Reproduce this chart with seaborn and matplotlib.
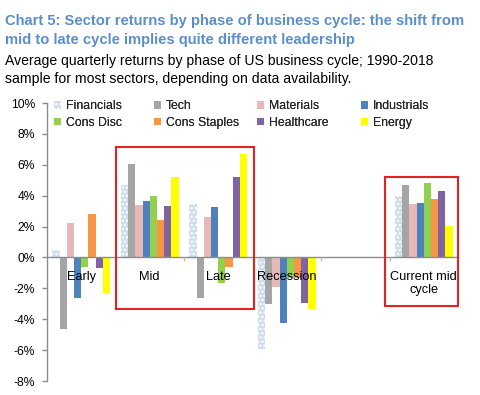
import matplotlib
matplotlib.use("Agg")
import matplotlib.pyplot as plt
import numpy as np
import pandas as pd
import seaborn as sns
from matplotlib.patches import Patch, Rectangle
from matplotlib.ticker import MultipleLocator, FuncFormatter, FixedLocator

# ---- data ----
phases = ["Early", "Mid", "Late", "Recession", " ", "Current mid\ncycle"]
sectors = ["Financials", "Tech", "Materials", "Industrials",
           "Cons Disc", "Cons Staples", "Healthcare", "Energy"]
early = [0.5, -4.65, 2.2, -2.65, -0.65, 2.8, -0.7, -2.3]
mid = [4.7, 6.05, 3.4, 3.65, 4.0, 2.45, 3.3, 5.2]
late = [3.45, -2.65, 2.65, 3.25, -1.65, -0.6, 5.2, 6.7]
recession = [-5.9, -3.0, -1.9, -4.25, -1.35, -1.3, -2.95, -3.35]
current_mid = [3.95, 4.7, 3.45, 3.55, 4.8, 3.8, 4.3, 2.05]

colors = ["#cddcef", "#a5a5a5", "#e6b9b8", "#4f81bd",
          "#92d050", "#f79646", "#8064a2", "#ffff00"]

series = {"Early": early, "Mid": mid, "Late": late,
          "Recession": recession, "Current mid\ncycle": current_mid}
rows = []
for ph, vals in series.items():
    for s, v in zip(sectors, vals):
        rows.append((ph, s, v))
df = pd.DataFrame(rows, columns=["phase", "sector", "ret"])

# ---- style ----
sns.set_style("white")
plt.rcParams["font.family"] = ["Liberation Sans", "DejaVu Sans"]
plt.rcParams["hatch.linewidth"] = 1.2

W, H = 480, 395
fig = plt.figure(figsize=(W / 100, H / 100), dpi=100)
ax = fig.add_axes([47 / W, 1 - 381 / H, (458 - 47) / W, (381 - 103) / H])

sns.barplot(data=df, x="phase", y="ret", hue="sector", order=phases,
            hue_order=sectors, palette=colors, width=0.84, saturation=1,
            errorbar=None, legend=False, ax=ax, linewidth=0)

# Financials dotted pattern
for bar in ax.containers[0]:
    bar.set_hatch("....")
    bar.set_edgecolor("white")
    bar.set_linewidth(0)

ax.set_axisbelow(False)
ax.set_xlim(-0.5, 5.5)
ax.set_ylim(-8, 10)
ax.set_xlabel("")
ax.set_ylabel("")

axis_col = "#8c8c8c"
for sp in ["top", "right"]:
    ax.spines[sp].set_visible(False)
ax.spines["left"].set_color(axis_col)
ax.spines["bottom"].set_color(axis_col)
ax.spines["left"].set_linewidth(1.0)
ax.spines["bottom"].set_linewidth(1.0)
ax.spines["bottom"].set_position(("data", 0))

ax.yaxis.set_major_locator(MultipleLocator(2))
ax.yaxis.set_major_formatter(FuncFormatter(lambda v, p: f"{int(round(v))}%"))
ax.tick_params(axis="y", which="major", length=3.6, width=1, color=axis_col,
               labelsize=8.7, pad=5.0, labelcolor="black", left=True)

ax.tick_params(axis="x", which="major", length=0, pad=9.5, labelsize=9.2,
               labelcolor="black")
ax.xaxis.set_minor_locator(FixedLocator(np.arange(0.5, 5.5, 1.0)))
ax.tick_params(axis="x", which="minor", length=3, width=1, color="#c0c0c0",
               bottom=True)
ax.grid(False)

# red highlight boxes
red = "#e3231f"
ax.add_patch(Rectangle((0.507, -3.36), 2.52 - 0.507, 7.14 + 3.36, fill=False,
                       ec=red, lw=1.5, clip_on=False, zorder=5))
ax.add_patch(Rectangle((4.43, -3.16), 5.496 - 4.43, 5.19 + 3.16, fill=False,
                       ec=red, lw=1.5, clip_on=False, zorder=5))

# legend: 4 columns x 2 rows at fixed column positions
handles = []
for s, c in zip(sectors, colors):
    if s == "Financials":
        handles.append(Patch(facecolor=c, edgecolor="white", hatch="....",
                             linewidth=0, label=s))
    else:
        handles.append(Patch(facecolor=c, edgecolor="none", label=s))
col_x = [54, 154, 257, 361]
for i, x in enumerate(col_x):
    leg = fig.legend(handles=[handles[i], handles[i + 4]], loc="upper left",
                     bbox_to_anchor=(x / W, 1 - 100 / H), frameon=False,
                     fontsize=8.8, handlelength=0.6, handleheight=0.6,
                     handletextpad=0.35, labelspacing=0.4, borderpad=0,
                     borderaxespad=0)
    fig.add_artist(leg)

# titles
title_col = "#5b8fc9"
fig.text(5 / W, 1 - 25 / H,
         "Chart 5: Sector returns by phase of business cycle: the shift from",
         color=title_col, fontsize=10.6, fontweight="bold", va="baseline")
fig.text(5 / W, 1 - 44 / H,
         "mid to late cycle implies quite different leadership",
         color=title_col, fontsize=10.6, fontweight="bold", va="baseline")
fig.text(5 / W, 1 - 65 / H,
         "Average quarterly returns by phase of US business cycle; 1990-2018",
         color="black", fontsize=10.1, va="baseline")
fig.text(5 / W, 1 - 83 / H,
         "sample for most sectors, depending on data availability.",
         color="black", fontsize=10.1, va="baseline")

fig.savefig("out.png", dpi=100)
